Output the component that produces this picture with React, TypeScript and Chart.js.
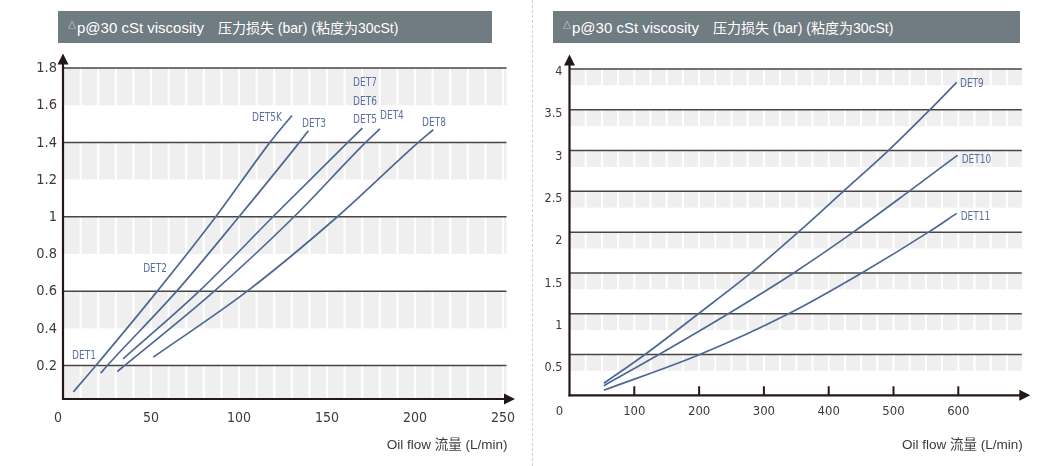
import React, { useEffect, useRef } from "react";
import { Chart, registerables } from "chart.js";
Chart.register(...registerables);

// ---------- Left panel data ----------
const det1Flow = [5.9, 18.7, 53.6, 86.8, 117.6, 130.1];
const det1Drop = [0.058, 0.2, 0.6, 1.0, 1.4, 1.545];
const det3Flow = [21.4, 25.2, 64.6, 100, 134.3, 139.4];
const det3Drop = [0.159, 0.2, 0.6, 1.0, 1.4, 1.463];
const det5Flow = [34.1, 77.4, 119.3, 161.8, 170.1];
const det5Drop = [0.236, 0.6, 1.0, 1.4, 1.477];
const det4Flow = [30.9, 86.0, 131.3, 172.0, 180.1];
const det4Drop = [0.168, 0.6, 1.0, 1.4, 1.472];
const det8Flow = [51.3, 104.7, 155.9, 201.9, 210.4];
const det8Drop = [0.245, 0.6, 1.0, 1.4, 1.468];

const leftYTicks = [0.2, 0.4, 0.6, 0.8, 1, 1.2, 1.4, 1.6, 1.8];
const leftYTickText = ["0.2", "0.4", "0.6", "0.8", "1", "1.2", "1.4", "1.6", "1.8"];
const leftXTicks = [0, 50, 100, 150, 200, 250];
const leftGrid = [0.2, 0.6, 1.0, 1.4, 1.8];
const leftBandLow = [0.02, 0.4, 0.8, 1.2, 1.6];
const leftBandHigh = [0.2, 0.6, 1.0, 1.4, 1.8];
const leftLabelText = ["DET1", "DET2", "DET5K", "DET3", "DET7", "DET6", "DET5", "DET4", "DET8"];
const leftLabelFlow = [11.9, 52.3, 115.9, 142.6, 171.6, 171.6, 171.6, 186.9, 210.8];
const leftLabelDrop = [0.252, 0.72, 1.535, 1.5, 1.721, 1.619, 1.521, 1.543, 1.505];

// ---------- Right panel data ----------
const det9Flow = [53, 116.5, 199, 280, 353, 422.5, 492, 556, 597.5];
const det9Drop = [0.147, 0.5, 1.0, 1.5, 2.0, 2.5, 3.0, 3.5, 3.836];
const det10Flow = [53, 138, 245, 346, 438, 524, 599];
const det10Drop = [0.118, 0.5, 1.0, 1.5, 2.0, 2.5, 2.945];
const det11Flow = [53, 201, 338, 451, 554, 597.5];
const det11Drop = [0.062, 0.5, 1.0, 1.5, 2.0, 2.23];

const rightYTicks = [0.5, 1, 1.5, 2, 2.5, 3, 3.5, 4];
const rightYTickText = ["0.5", "1", "1.5", "2", "2.5", "3", "3.5", "4"];
const rightXTicks = [0, 100, 200, 300, 400, 500, 600];
const rightGrid = [0.5, 1, 1.5, 2, 2.5, 3, 3.5, 4];
const rightBandLow = [0.3, 0.8, 1.3, 1.8, 2.3, 2.8, 3.3, 3.8];
const rightBandHigh = [0.5, 1, 1.5, 2, 2.5, 3, 3.5, 4];
const rightLabelText = ["DET9", "DET10", "DET11"];
const rightLabelFlow = [602.6, 605.2, 603.7];
const rightLabelDrop = [3.815, 2.892, 2.185];

const TITLE_EN = "p@30 cSt viscosity";
const TITLE_CN = "压力损失 (bar) (粘度为30cSt)";
const X_TITLE = "Oil flow 流量 (L/min)";

const LINE_COLOR = "#4f6893";
const LABEL_COLOR = "#5b6f9d";
const TEXT_COLOR = "#3e3a39";
const AXIS_COLOR = "#231815";
const NARROW = "'Liberation Sans Narrow', 'DejaVu Sans Condensed', 'Noto Sans', sans-serif";

type Panel = {
  left: number;
  width: number;
  padding: { left: number; right: number; top: number; bottom: number };
  xMin: number; xMax: number; yMin: number; yMax: number;
  series: { xs: number[]; ys: number[] }[];
  yTicks: number[]; yTickText: string[]; xTicks: number[];
  grid: number[]; bandLow: number[]; bandHigh: number[];
  stripeStep: number;
  labels: string[]; labelX: number[]; labelY: number[]; labelAlign: CanvasTextAlign;
  yFont: number; xFont: number; yLabelGap: number; yLabelDrift: number;
  xLabelY: number; zeroShift: number; tickMarks: boolean;
};

function makeDecor(p: Panel) {
  return {
    id: "decor",
    beforeDatasetsDraw(chart: any) {
      const { ctx, chartArea: a } = chart;
      const x = chart.scales.x, y = chart.scales.y;
      ctx.save();
      // gray bands
      ctx.fillStyle = "#efefef";
      p.bandLow.forEach((lo, i) => {
        const t = y.getPixelForValue(p.bandHigh[i]);
        const b = y.getPixelForValue(lo);
        ctx.fillRect(a.left, t, a.right - a.left, b - t);
      });
      // white vertical stripes
      ctx.strokeStyle = "#ffffff";
      ctx.lineWidth = 2;
      for (let v = p.xMin + p.stripeStep; v < p.xMax; v += p.stripeStep) {
        const px = x.getPixelForValue(v);
        ctx.beginPath(); ctx.moveTo(px, a.top); ctx.lineTo(px, a.bottom); ctx.stroke();
      }
      // dark horizontal lines
      ctx.strokeStyle = "#4a4545";
      ctx.lineWidth = 1.5;
      p.grid.forEach((v) => {
        const py = y.getPixelForValue(v);
        ctx.beginPath(); ctx.moveTo(a.left, py); ctx.lineTo(a.right, py); ctx.stroke();
      });
      // axes
      ctx.strokeStyle = AXIS_COLOR;
      ctx.fillStyle = AXIS_COLOR;
      ctx.lineWidth = 2.2;
      const ox = x.getPixelForValue(p.xMin);
      const oy = y.getPixelForValue(p.yMin);
      ctx.beginPath(); ctx.moveTo(ox, a.top - 6); ctx.lineTo(ox, oy + 1); ctx.stroke();
      ctx.beginPath(); ctx.moveTo(ox - 1, oy); ctx.lineTo(a.right + 2, oy); ctx.stroke();
      // arrows
      ctx.beginPath();
      ctx.moveTo(ox, a.top - 14.5); ctx.lineTo(ox - 5.5, a.top - 3.5); ctx.lineTo(ox + 5.5, a.top - 3.5); ctx.closePath(); ctx.fill();
      ctx.beginPath();
      ctx.moveTo(a.right + 8.5, oy); ctx.lineTo(a.right - 2.5, oy - 5.5); ctx.lineTo(a.right - 2.5, oy + 5.5); ctx.closePath(); ctx.fill();
      // tick marks
      if (p.tickMarks) {
        ctx.lineWidth = 2;
        p.xTicks.forEach((v) => {
          if (v === p.xMin) return;
          const px = x.getPixelForValue(v);
          ctx.beginPath(); ctx.moveTo(px, oy); ctx.lineTo(px, oy - 9); ctx.stroke();
        });
      }
      // tick labels
      ctx.fillStyle = TEXT_COLOR;
      ctx.textBaseline = "middle";
      ctx.textAlign = "right";
      ctx.font = `${p.yFont}px ${NARROW}`;
      p.yTicks.forEach((v, i) => {
        const py = y.getPixelForValue(v) + p.yLabelDrift * (p.yMax - v) / 0.5 + (p.yLabelDrift ? 2.7 : 0.5);
        ctx.fillText(p.yTickText[i], ox - p.yLabelGap, py);
      });
      ctx.textAlign = "center";
      ctx.font = `${p.xFont}px ${NARROW}`;
      p.xTicks.forEach((v) => {
        const px = x.getPixelForValue(v) + (v === p.xMin ? p.zeroShift : 0);
        ctx.fillText(String(v), px, p.xLabelY);
      });
      // axis title
      ctx.textAlign = "right";
      ctx.font = "13.5px 'Liberation Sans', Arial, 'Noto Sans CJK SC', sans-serif";
      ctx.fillText(X_TITLE, a.right + 1, 445);
      ctx.restore();
    },
    afterDatasetsDraw(chart: any) {
      const { ctx } = chart;
      const x = chart.scales.x, y = chart.scales.y;
      ctx.save();
      ctx.fillStyle = LABEL_COLOR;
      ctx.textBaseline = "middle";
      ctx.textAlign = p.labelAlign;
      ctx.font = `12.5px ${NARROW}`;
      p.labels.forEach((t, i) => {
        const px = x.getPixelForValue(p.labelX[i]);
        const py = y.getPixelForValue(p.labelY[i]);
        ctx.save();
        ctx.translate(px, py);
        ctx.scale(0.8, 1);
        ctx.fillText(t, 0, 0);
        ctx.restore();
      });
      ctx.restore();
    },
  };
}

const leftPanel: Panel = {
  left: 0, width: 533,
  padding: { left: 63, right: 26.5, top: 68, bottom: 67 },
  xMin: 0, xMax: 252, yMin: 0.02, yMax: 1.8,
  series: [
    { xs: det1Flow, ys: det1Drop },
    { xs: det3Flow, ys: det3Drop },
    { xs: det5Flow, ys: det5Drop },
    { xs: det4Flow, ys: det4Drop },
    { xs: det8Flow, ys: det8Drop },
  ],
  yTicks: leftYTicks, yTickText: leftYTickText, xTicks: leftXTicks,
  grid: leftGrid, bandLow: leftBandLow, bandHigh: leftBandHigh,
  stripeStep: 10,
  labels: leftLabelText, labelX: leftLabelFlow, labelY: leftLabelDrop, labelAlign: "center",
  yFont: 14.5, xFont: 14, yLabelGap: 6, yLabelDrift: 0,
  xLabelY: 418.5, zeroShift: -5, tickMarks: false,
};

const rightPanel: Panel = {
  left: 533, width: 531,
  padding: { left: 36.5, right: 42.2, top: 69, bottom: 70.7 },
  xMin: 0, xMax: 698, yMin: 0, yMax: 4,
  series: [
    { xs: det9Flow, ys: det9Drop },
    { xs: det10Flow, ys: det10Drop },
    { xs: det11Flow, ys: det11Drop },
  ],
  yTicks: rightYTicks, yTickText: rightYTickText, xTicks: rightXTicks,
  grid: rightGrid, bandLow: rightBandLow, bandHigh: rightBandHigh,
  stripeStep: 25,
  labels: rightLabelText, labelX: rightLabelFlow, labelY: rightLabelDrop, labelAlign: "left",
  yFont: 12.5, xFont: 13, yLabelGap: 7, yLabelDrift: 1.55,
  xLabelY: 411.5, zeroShift: -10, tickMarks: true,
};

function PanelChart({ panel }: { panel: Panel }) {
  const ref = useRef<HTMLCanvasElement>(null);
  useEffect(() => {
    const chart = new Chart(ref.current as HTMLCanvasElement, {
      type: "line",
      data: {
        datasets: panel.series.map((s) => ({
          data: s.xs.map((v, i) => ({ x: v, y: s.ys[i] })),
          borderColor: LINE_COLOR,
          borderWidth: 1.7,
          pointRadius: 0,
          fill: false,
          cubicInterpolationMode: "monotone" as const,
        })),
      },
      options: {
        animation: false,
        responsive: false,
        maintainAspectRatio: false,
        layout: { padding: panel.padding },
        plugins: { legend: { display: false }, tooltip: { enabled: false } },
        scales: {
          x: { type: "linear", min: panel.xMin, max: panel.xMax, display: false },
          y: { type: "linear", min: panel.yMin, max: panel.yMax, display: false },
        },
      },
      plugins: [makeDecor(panel)],
    } as any);
    return () => chart.destroy();
  }, [panel]);
  return (
    <canvas
      ref={ref}
      width={panel.width}
      height={466}
      style={{ position: "absolute", left: panel.left, top: 0, width: panel.width, height: 466 }}
    />
  );
}

function TitleBar({ left, width }: { left: number; width: number }) {
  return (
    <div
      style={{
        position: "absolute", left, top: 11, width, height: 32,
        background: "#6f7c82", color: "#ffffff",
        display: "flex", alignItems: "center", paddingLeft: 10, boxSizing: "border-box",
        fontFamily: "'Liberation Sans', Arial, 'Noto Sans CJK SC', sans-serif",
        fontSize: 15, whiteSpace: "nowrap",
      }}
    >
      <span style={{ fontSize: 8, position: "relative", top: -3, marginRight: 1 }}>△</span>
      <span>{TITLE_EN}</span>
      <span style={{ marginLeft: 14, fontSize: 14 }}>{TITLE_CN}</span>
    </div>
  );
}

export default function App() {
  return (
    <div style={{ position: "absolute", left: 0, top: 0, width: 1064, height: 466, background: "#ffffff", overflow: "hidden" }}>
      <PanelChart panel={leftPanel} />
      <PanelChart panel={rightPanel} />
      <TitleBar left={58} width={434} />
      <TitleBar left={553} width={467} />
      <div style={{ position: "absolute", left: 532, top: 0, width: 0, height: 466, borderLeft: "1px dashed #cfcfcf" }} />
    </div>
  );
}
